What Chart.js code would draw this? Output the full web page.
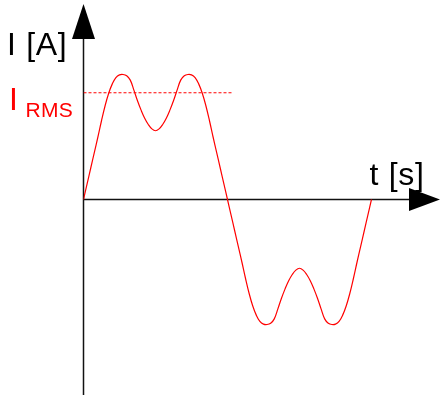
<!DOCTYPE html>
<html>
<head>
<meta charset="utf-8">
<script src="https://cdn.jsdelivr.net/npm/chart.js@4.4.1/dist/chart.umd.min.js"></script>
<style>
  html, body { margin: 0; padding: 0; background: #ffffff; }
  #wrap { width: 441px; height: 397px; }
</style>
</head>
<body>
<div id="wrap"><canvas id="c" width="441" height="397"></canvas></div>
<script>
// ---- data (t in ms, I normalised to peak) ----
const timeValues = [
  0, 0.25, 0.5, 0.75, 1, 1.25, 1.5, 1.75, 2, 2.25, 2.5, 2.75, 3, 3.25, 3.5, 3.75, 4, 4.25, 4.5, 4.75,
  5, 5.25, 5.5, 5.75, 6, 6.25, 6.5, 6.75, 7, 7.25, 7.5, 7.75, 8, 8.25, 8.5, 8.75, 9, 9.25, 9.5, 9.75,
  10, 10.25, 10.5, 10.75, 11, 11.25, 11.5, 11.75, 12, 12.25, 12.5, 12.75, 13, 13.25, 13.5, 13.75, 14, 14.25, 14.5, 14.75,
  15, 15.25, 15.5, 15.75, 16, 16.25, 16.5, 16.75, 17, 17.25, 17.5, 17.75, 18, 18.25, 18.5, 18.75, 19, 19.25, 19.5, 19.75, 20
];
const currentValues = [
  0, 0.125, 0.25, 0.375, 0.50, 0.63, 0.75, 0.85, 0.925, 0.975, 0.997, 1.0, 0.99, 0.955, 0.875, 0.79, 0.715, 0.65, 0.60, 0.565,
  0.55, 0.565, 0.60, 0.65, 0.715, 0.79, 0.875, 0.955, 0.99, 1.0, 0.997, 0.975, 0.925, 0.85, 0.75, 0.63, 0.50, 0.375, 0.25, 0.125,
  0, -0.125, -0.25, -0.375, -0.50, -0.63, -0.75, -0.85, -0.925, -0.975, -0.997, -1.0, -0.99, -0.955, -0.875, -0.79, -0.715, -0.65, -0.60, -0.565,
  -0.55, -0.565, -0.60, -0.65, -0.715, -0.79, -0.875, -0.955, -0.99, -1.0, -0.997, -0.975, -0.925, -0.85, -0.75, -0.63, -0.50, -0.375, -0.25, -0.125, 0
];
const rmsValue = 0.854;
const rmsSpan = [0, 10.35];
const yAxisLabel = "I [A]";
const xAxisLabel = "t [s]";
const rmsMain = "I";
const rmsSub = "RMS";

const curveData = timeValues.map((t, i) => ({ x: t, y: currentValues[i] }));
const rmsData = rmsSpan.map(t => ({ x: t, y: rmsValue }));

const FONT = '"Liberation Sans", Arial, sans-serif';

const axesPlugin = {
  id: 'axesArrows',
  beforeDatasetsDraw(chart) {
    const ctx = chart.ctx;
    const xs = chart.scales.x, ys = chart.scales.y;
    const x0 = xs.getPixelForValue(0);
    const y0 = ys.getPixelForValue(0);
    const top = chart.chartArea.top, bottom = chart.chartArea.bottom, right = chart.chartArea.right;
    ctx.save();
    ctx.strokeStyle = '#111';
    ctx.fillStyle = '#000';
    ctx.lineWidth = 1.5;
    ctx.beginPath();
    ctx.moveTo(x0, bottom);
    ctx.lineTo(x0, top + 35);
    ctx.stroke();
    ctx.beginPath();
    ctx.moveTo(x0, top);
    ctx.lineTo(x0 - 11.5, top + 35);
    ctx.lineTo(x0 + 11.5, top + 35);
    ctx.closePath();
    ctx.fill();
    ctx.beginPath();
    ctx.moveTo(x0, y0);
    ctx.lineTo(right - 31, y0);
    ctx.stroke();
    ctx.beginPath();
    ctx.moveTo(right, y0);
    ctx.lineTo(right - 31, y0 - 11.5);
    ctx.lineTo(right - 31, y0 + 11.5);
    ctx.closePath();
    ctx.fill();
    ctx.restore();
  },
  afterDatasetsDraw(chart) {
    const ctx = chart.ctx;
    ctx.save();
    ctx.textBaseline = 'alphabetic';
    ctx.textAlign = 'left';
    ctx.fillStyle = '#000';
    ctx.font = '32px ' + FONT;
    ctx.letterSpacing = '0.7px';
    ctx.fillText(yAxisLabel, 7, 54.5);
    ctx.fillText(xAxisLabel, 369.5, 185);
    ctx.fillStyle = '#ff0000';
    ctx.fillText(rmsMain, 9, 110);
    ctx.font = '21px ' + FONT;
    ctx.letterSpacing = '0.3px';
    ctx.fillText(rmsSub, 25.5, 116.7);
    ctx.restore();
  }
};

new Chart(document.getElementById('c'), {
  type: 'line',
  data: {
    datasets: [
      {
        data: curveData,
        borderColor: '#ff0000',
        borderWidth: 1.2,
        pointRadius: 0,
        fill: false,
        tension: 0.4
      },
      {
        data: rmsData,
        borderColor: '#ff0000',
        borderWidth: 1,
        borderDash: [3, 2],
        pointRadius: 0,
        fill: false
      }
    ]
  },
  options: {
    responsive: false,
    devicePixelRatio: 1,
    animation: false,
    events: [],
    layout: { padding: { left: 83.5, right: 1, top: 4, bottom: 2 } },
    plugins: { legend: { display: false }, tooltip: { enabled: false }, title: { display: false } },
    scales: {
      x: { type: 'linear', min: 0, max: 24.76, display: false },
      y: { type: 'linear', min: -1.564, max: 1.564, display: false }
    }
  },
  plugins: [axesPlugin]
});
</script>
</body>
</html>
